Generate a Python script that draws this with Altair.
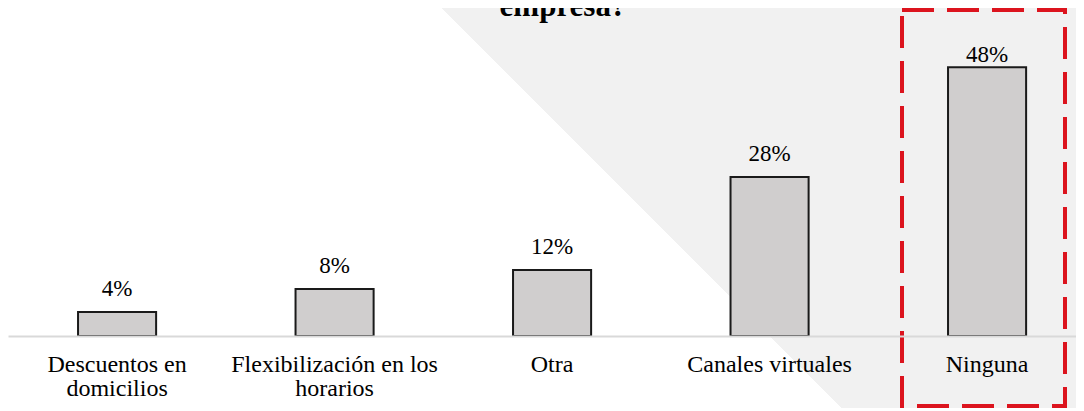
import json
import altair as alt
import pandas as pd

categories = ["Descuentos en domicilios", "Flexibilización en los horarios", "Otra",
              "Canales virtuales", "Ninguna"]
values = [4.3, 8.4, 11.8, 28.4, 48.0]
label_lines = {
    "Descuentos en domicilios": ["Descuentos en", "domicilios"],
    "Flexibilización en los horarios": ["Flexibilización en los", "horarios"],
}
title_tail = "empresa?"
highlight = "Ninguna"

df = pd.DataFrame({"cat": categories, "val": values})

W, H = 1068, 328
FONT = "Liberation Serif"

expr = "datum.label"
for k, v in label_lines.items():
    expr = f"datum.value == {json.dumps(k)} ? {json.dumps(v)} : ({expr})"

xscale = alt.Scale(domain=categories, paddingInner=0.641, paddingOuter=0.2757, align=0.584)
yscale = alt.Scale(domain=[0, 58.57], nice=False)

x_enc = alt.X("cat:N", sort=categories, scale=xscale,
              axis=alt.Axis(title=None, labelAngle=0, ticks=False, tickSize=0,
                            domainColor="#d9d9d9", domainWidth=2, grid=False,
                            labelFont=FONT, labelFontSize=24, labelColor="#000000",
                            labelPadding=16, labelLineHeight=24, labelLimit=0,
                            labelExpr=expr, zindex=1))
y_enc = alt.Y("val:Q", scale=yscale, axis=None)

one = alt.Data(values=[{}])

grad = alt.LinearGradient(
    gradient="linear", x1=0, y1=1, x2=1, y2=0,
    stops=[alt.GradientStop(color="#ffffff", offset=0),
           alt.GradientStop(color="#ffffff", offset=0.699),
           alt.GradientStop(color="#f1f1f1", offset=0.699),
           alt.GradientStop(color="#f1f1f1", offset=1)])

bg = alt.Chart(one).mark_rect(fill=grad).encode(
    x=alt.value(0), x2=alt.value(W), y=alt.value(-8), y2=alt.value(W - 8))

base = alt.Chart(df)

bars = base.mark_bar(fill="#d0cece", stroke="#1a1a1a", strokeWidth=2).encode(x=x_enc, y=y_enc)

txt = base.transform_calculate(lab="format(datum.val, '.0f') + '%'")
labels = txt.transform_filter(alt.datum.cat != highlight).mark_text(
    font=FONT, fontSize=23, baseline="alphabetic", dy=-16, color="#000000"
).encode(x=alt.X("cat:N", sort=categories, scale=xscale), y=y_enc, text="lab:N")
labels_top = txt.transform_filter(alt.datum.cat == highlight).mark_text(
    font=FONT, fontSize=23, baseline="alphabetic", dy=-5, color="#000000"
).encode(x=alt.X("cat:N", sort=categories, scale=xscale), y=y_enc, text="lab:N")

box = alt.Chart(one).mark_rect(filled=False, stroke="#dc141e", strokeWidth=4,
                               strokeDash=[32, 13]).encode(
    x=alt.value(894), x2=alt.value(1057), y=alt.value(2), y2=alt.value(398))

title = alt.Chart(one).mark_text(text=title_tail, font=FONT, fontSize=31, fontWeight="bold",
                                 baseline="alphabetic", color="#000000").encode(
    x=alt.value(555), y=alt.value(8))

chart = alt.layer(bg, bars, labels, labels_top, box, title).properties(
    width=W, height=H,
    padding={"left": 0, "top": 0, "right": 0, "bottom": 72},
    autosize=alt.AutoSizeParams(type="none"),
    background="#ffffff",
).configure_view(strokeWidth=0)

chart.save("out.html", embed_options={"renderer": "svg", "actions": False})
